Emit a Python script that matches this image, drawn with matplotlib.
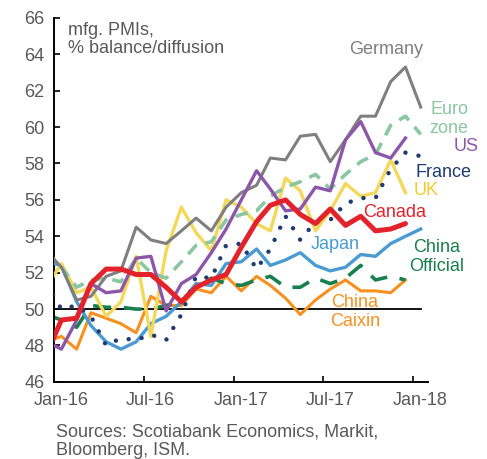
import matplotlib
matplotlib.use("Agg")
import matplotlib.pyplot as plt
import matplotlib.dates as mdates
import matplotlib.transforms as mtransforms
import pandas as pd

plt.rcParams.update({
    'font.family': ['Liberation Sans', 'DejaVu Sans'],
    'font.size': 13,
})

# monthly readings, Dec-15 .. Jan-18 (points sit mid-month)
months = pd.date_range('2015-12-01', '2018-01-01', freq='MS') + pd.Timedelta(days=15)

germany = [53.2, 52.3, 50.5, 50.7, 51.8, 52.1, 54.5, 53.8, 53.6, 54.3, 55.0, 54.3, 55.6,
           56.4, 56.8, 58.3, 58.2, 59.5, 59.6, 58.1, 59.3, 60.6, 60.6, 62.5, 63.3, 61.1]
eurozone = [53.2, 52.3, 51.2, 51.6, 51.7, 51.5, 52.8, 52.0, 51.7, 52.6, 53.5, 53.7, 54.9,
            55.2, 55.4, 56.2, 56.7, 57.0, 57.4, 56.6, 57.4, 58.1, 58.5, 60.1, 60.6, 59.6]
us = [48.2, 47.8, 49.4, 51.4, 50.9, 51.0, 52.8, 52.9, 49.9, 51.4, 51.9, 53.1, 54.4,
      56.0, 57.6, 56.6, 55.4, 55.5, 56.7, 56.5, 59.3, 60.3, 58.6, 58.3, 59.4, None]
france = [51.4, 50.0, 50.2, 49.6, 48.0, 48.4, 48.3, 48.6, 48.3, 49.7, 51.8, 51.7, 53.5,
          53.6, 52.2, 53.3, 55.1, 53.8, 54.8, 54.9, 55.8, 56.1, 56.1, 57.7, 58.6, 58.4]
uk = [51.2, 52.5, 50.9, 51.2, 49.6, 50.4, 52.9, 48.5, 53.2, 55.6, 54.2, 53.2, 56.0,
      55.6, 54.7, 54.3, 57.2, 56.5, 54.3, 55.4, 56.9, 56.2, 56.4, 58.2, 56.4, None]
canada = [47.5, 49.4, 49.5, 51.4, 52.2, 52.2, 51.9, 51.9, 51.2, 50.4, 51.2, 51.6, 51.9,
          53.4, 54.8, 55.7, 56.0, 55.2, 54.7, 55.5, 54.6, 55.1, 54.3, 54.4, 54.7, None]
japan = [52.6, 52.4, 50.4, 49.1, 48.2, 47.8, 48.2, 49.2, 49.6, 50.4, 51.4, 51.3, 52.5,
         52.6, 53.3, 52.4, 52.7, 53.1, 52.4, 52.1, 52.3, 53.0, 52.9, 53.6, 54.0, 54.4]
china_official = [49.7, 49.4, 49.0, 50.2, 50.1, 50.1, 50.0, 50.0, 50.2, 50.4, 51.2, 51.7, 51.4,
                  51.3, 51.6, 51.8, 51.2, 51.2, 51.7, 51.4, 51.7, 52.4, 51.6, 51.8, 51.6, None]
china_caixin = [48.2, 48.5, 47.8, 49.8, 49.5, 49.2, 48.7, 50.7, 50.2, 50.2, 51.1, 50.9, 51.8,
                51.0, 51.8, 51.3, 50.6, 49.7, 50.5, 51.1, 51.6, 51.0, 51.0, 50.9, 51.6, None]

COLORS = {
    'germany': '#7f7f7f',
    'euro': '#8ac6a2',
    'us': '#8c57a8',
    'france': '#1f3b6f',
    'uk': '#f3d85a',
    'canada': '#e3232c',
    'japan': '#4a9bd2',
    'china_off': '#18804f',
    'caixin': '#f7901e',
    'text': '#595959',
}

fig = plt.figure(figsize=(4.87, 4.59), dpi=100)
ax = fig.add_axes([0.111, 0.168, 0.768, 0.793])


def series(vals):
    return pd.Series(vals, index=months, dtype=float)


# 50 = expansion/contraction line
ax.plot([pd.Timestamp('2016-01-01'), pd.Timestamp('2018-01-17')], [50, 50],
        color='black', lw=1.3, zorder=1)

ax.plot(months, series(china_caixin), color=COLORS['caixin'], lw=2.2, zorder=2)
ax.plot(months, series(china_official), color=COLORS['china_off'], lw=2.6,
        ls=(0, (5, 3.5)), zorder=2)
ax.plot(months, series(japan), color=COLORS['japan'], lw=2.4, zorder=3)
ax.plot(months, series(uk), color=COLORS['uk'], lw=2.4, zorder=3)
ax.plot(months, series(france), color=COLORS['france'], lw=3.2,
        ls=(0, (0.01, 3.0)), dash_capstyle='round', zorder=4)
ax.plot(months, series(eurozone), color=COLORS['euro'], lw=2.6,
        ls=(0, (3.5, 2.4)), zorder=3)
ax.plot(months, series(germany), color=COLORS['germany'], lw=2.2, zorder=3)
ax.plot(months, series(us), color=COLORS['us'], lw=2.4, zorder=4)
ax.plot(months, series(canada), color=COLORS['canada'], lw=3.6,
        solid_capstyle='round', zorder=5)

ax.set_xlim(pd.Timestamp('2016-01-01'), pd.Timestamp('2018-01-31'))
ax.set_ylim(46, 66)
ax.set_yticks(range(46, 67, 2))
ax.xaxis.set_major_locator(mdates.MonthLocator(bymonth=[1, 7]))
ax.xaxis.set_major_formatter(mdates.DateFormatter('%b-%y'))

for s in ['top', 'right']:
    ax.spines[s].set_visible(False)
for s in ['left', 'bottom']:
    ax.spines[s].set_linewidth(1.4)
ax.tick_params(axis='both', direction='in', length=4, width=1.2,
               colors='black', labelcolor=COLORS['text'], labelsize=13)
ax.tick_params(axis='y', pad=7)
ax.tick_params(axis='x', pad=7)

# date labels sit half a month right of their ticks, as in the source
shift = mtransforms.ScaledTranslation(7 / 100, 0, fig.dpi_scale_trans)
for lbl in ax.get_xticklabels():
    lbl.set_transform(lbl.get_transform() + shift)


def label(x_px, y_px, txt, color, ha='center'):
    # place by pixel position of the reference layout (axes fraction)
    ax.text((x_px - 54) / 374, (381.7 - y_px) / 363.7, txt, color=color,
            ha=ha, va='center', fontsize=13, transform=ax.transAxes,
            linespacing=1.1)


label(386, 50, 'Germany', COLORS['germany'])
label(449, 119, 'Euro\nzone', COLORS['euro'])
label(466, 146, 'US', COLORS['us'])
label(443, 172, 'France', COLORS['france'])
label(426, 190, 'UK', '#f0cd2c')
label(395, 212, 'Canada', COLORS['canada'])
label(335, 244, 'Japan', COLORS['japan'])
label(437, 257, 'China\nOfficial', COLORS['china_off'])
label(355, 312, 'China\nCaixin', COLORS['caixin'])

ax.text(0.037, 0.99, 'mfg. PMIs,\n% balance/diffusion', transform=ax.transAxes,
        ha='left', va='top', color=COLORS['text'], fontsize=13, linespacing=1.15)

fig.text(56 / 487, 1 - 441 / 459, 'Sources: Scotiabank Economics, Markit,\nBloomberg, ISM.',
         ha='left', va='center', color=COLORS['text'], fontsize=13, linespacing=1.1)

fig.savefig('out.png', dpi=100, facecolor='white')
